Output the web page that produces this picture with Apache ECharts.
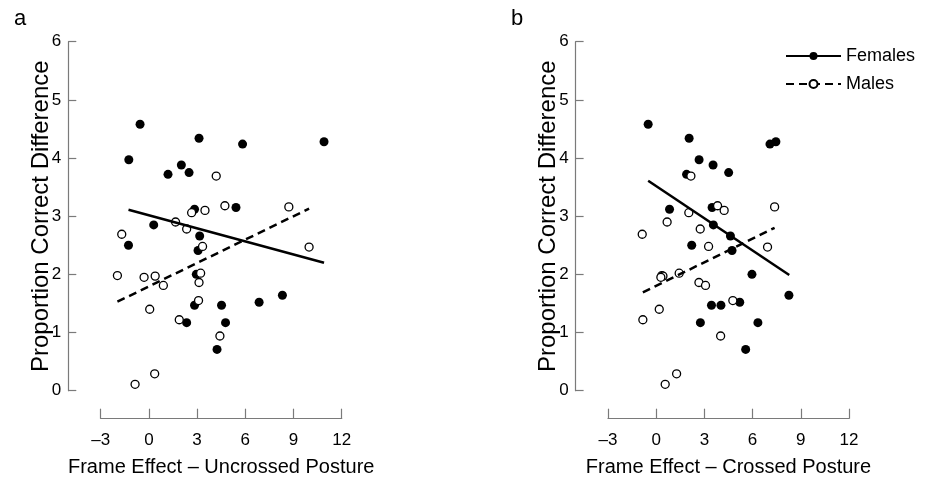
<!DOCTYPE html>
<html>
<head>
<meta charset="utf-8">
<script src="https://cdn.jsdelivr.net/npm/echarts@6/dist/echarts.min.js"></script>
<style>
  html, body { margin: 0; padding: 0; background: #fff; }
  #chart { width: 925px; height: 483px; }
</style>
</head>
<body>
<div id="chart"></div>
<script>
// Axis ticks shared by both panels
const xTicks = [-3, 0, 3, 6, 9, 12];
const yTicks = [0, 1, 2, 3, 4, 5, 6];

// Proportion correct difference per participant (same participants in both panels)
const femaleScore = [4.58, 4.34, 4.28, 4.24, 3.97, 3.88, 3.75, 3.72, 3.15, 3.12, 2.85, 2.66, 2.50, 2.41, 2.00, 1.64, 1.52, 1.47, 1.47, 1.17, 1.17, 0.71];
const femaleUncrossed = [-0.55, 3.12, 10.90, 5.83, -1.25, 2.02, 2.50, 1.19, 5.42, 2.84, 0.30, 3.16, -1.27, 3.06, 2.95, 8.31, 6.86, 2.84, 4.52, 2.35, 4.77, 4.24];
const femaleCrossed = [-0.50, 2.05, 7.45, 7.08, 2.67, 3.54, 4.51, 1.89, 3.48, 0.83, 3.56, 4.62, 2.21, 4.72, 5.96, 8.26, 5.20, 3.44, 4.03, 2.75, 6.33, 5.57];

const maleScore = [3.69, 3.18, 3.10, 3.16, 3.06, 2.90, 2.78, 2.69, 2.48, 2.47, 2.02, 1.98, 1.97, 1.95, 1.86, 1.81, 1.55, 1.40, 1.22, 0.94, 0.29, 0.11];
const maleUncrossed = [4.19, 4.73, 3.49, 8.71, 2.66, 1.66, 2.35, -1.69, 3.34, 9.97, 3.22, -1.96, 0.39, -0.30, 3.12, 0.90, 3.09, 0.05, 1.89, 4.42, 0.36, -0.86];
const maleCrossed = [2.16, 3.82, 4.23, 7.37, 2.03, 0.68, 2.74, -0.87, 3.26, 6.93, 1.43, 0.35, 0.42, 0.29, 2.66, 3.07, 4.77, 0.19, -0.83, 4.01, 1.27, 0.56];

// Fitted regression lines: [x, y] end points
const femaleFitUncrossed = [[-1.27, 3.11], [10.90, 2.20]];
const maleFitUncrossed = [[-1.96, 1.53], [9.97, 3.13]];
const femaleFitCrossed = [[-0.50, 3.61], [8.28, 1.99]];
const maleFitCrossed = [[-0.83, 1.69], [7.37, 2.80]];

const panels = [
  { letter: 'a', title: 'Frame Effect \u2013 Uncrossed Posture', fx: femaleUncrossed, mx: maleUncrossed, ff: femaleFitUncrossed, mf: maleFitUncrossed },
  { letter: 'b', title: 'Frame Effect \u2013 Crossed Posture', fx: femaleCrossed, mx: maleCrossed, ff: femaleFitCrossed, mf: maleFitCrossed }
];

const FONT = 'Liberation Sans, Arial, Helvetica, sans-serif';
const AXIS_GREY = '#7a7a7a';
const pair = (xs, ys) => xs.map((x, i) => [x, ys[i]]);
const minus = v => String(v).replace('-', '\u2013');

const grids = [], xAxes = [], yAxes = [], series = [], titles = [];
panels.forEach((p, i) => {
  const left = i === 0 ? 100.7 : 608;
  grids.push({ left: left, top: 41.7, width: 241, height: 349 });
  xAxes.push({
    gridIndex: i, type: 'value',
    min: xTicks[0], max: xTicks[xTicks.length - 1], interval: xTicks[1] - xTicks[0],
    offset: 28,
    splitLine: { show: false },
    axisLine: { show: true, onZero: false, lineStyle: { color: AXIS_GREY, width: 1.2 } },
    axisTick: { show: true, inside: true, length: 10, lineStyle: { color: AXIS_GREY, width: 1.2 } },
    axisLabel: { color: '#000', fontSize: 17, fontFamily: FONT, margin: 13, formatter: minus },
    name: p.title, nameLocation: 'middle', nameGap: 39, nameMoveOverlap: false,
    nameTextStyle: { color: '#000', fontSize: 20, fontFamily: FONT }
  });
  yAxes.push({
    gridIndex: i, type: 'value',
    min: yTicks[0], max: yTicks[yTicks.length - 1], interval: yTicks[1] - yTicks[0],
    offset: 32.4,
    splitLine: { show: false },
    axisLine: { show: true, onZero: false, lineStyle: { color: AXIS_GREY, width: 1.2 } },
    axisTick: { show: true, inside: true, length: 8, lineStyle: { color: AXIS_GREY, width: 1.2 } },
    axisLabel: { color: '#000', fontSize: 17, fontFamily: FONT, margin: 7 },
    name: 'Proportion Correct Difference', nameLocation: 'middle', nameGap: 15, nameMoveOverlap: false,
    nameTextStyle: { color: '#000', fontSize: 24, fontFamily: FONT }
  });
  titles.push({
    text: p.letter, left: i === 0 ? 9 : 506, top: 3,
    textStyle: { color: '#000', fontSize: 22, fontWeight: 'normal', fontFamily: FONT }
  });

  // regression lines (listed first so the legend takes its icons from them)
  series.push({
    name: 'Females', type: 'line', xAxisIndex: i, yAxisIndex: i,
    data: p.ff, symbol: 'circle', symbolSize: 9, showSymbol: false,
    itemStyle: { color: '#000' },
    lineStyle: { color: '#000', width: 2.5 },
    silent: true, animation: false
  });
  series.push({
    name: 'Males', type: 'line', xAxisIndex: i, yAxisIndex: i,
    data: p.mf, symbol: 'circle', symbolSize: 8, showSymbol: false,
    itemStyle: { color: '#fff', borderColor: '#000', borderWidth: 1.3 },
    lineStyle: { color: '#000', width: 2.5, type: [8, 5] },
    silent: true, animation: false
  });
  // participants
  series.push({
    name: 'Females', type: 'scatter', xAxisIndex: i, yAxisIndex: i,
    data: pair(p.fx, femaleScore), symbol: 'circle', symbolSize: 9,
    itemStyle: { color: '#000', opacity: 1 }, animation: false
  });
  series.push({
    name: 'Males', type: 'scatter', xAxisIndex: i, yAxisIndex: i,
    data: pair(p.mx, maleScore), symbol: 'circle', symbolSize: 8,
    itemStyle: { color: '#fff', borderColor: '#000', borderWidth: 1.3, opacity: 1 }, animation: false
  });
});

const chart = echarts.init(document.getElementById('chart'), null, { renderer: 'canvas' });
chart.setOption({
  backgroundColor: '#fff',
  animation: false,
  title: titles,
  grid: grids,
  xAxis: xAxes,
  yAxis: yAxes,
  legend: {
    data: ['Females', 'Males'],
    orient: 'vertical', left: 780, top: 42,
    itemWidth: 55, itemHeight: 10, itemGap: 10,
    textStyle: { color: '#000', fontSize: 18, fontFamily: FONT },
    selectedMode: false
  },
  series: series
});
</script>
</body>
</html>
